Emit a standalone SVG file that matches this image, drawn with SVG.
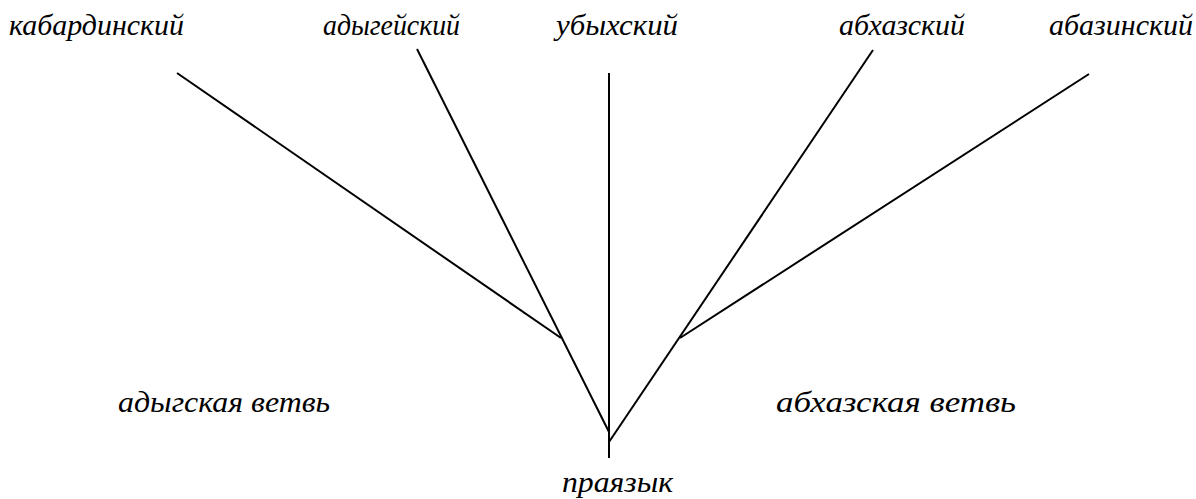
<svg xmlns="http://www.w3.org/2000/svg" width="1196" height="499" viewBox="0 0 1196 499">
<style>
.t{font-family:"Liberation Serif","Times New Roman",serif;font-style:italic;font-size:30px;fill:#000}
.c line{stroke:#000;stroke-width:2;stroke-linecap:butt}
</style>
<rect width="1196" height="499" fill="#fff"/>
<g class="c" id="connectors">
<line x1="609" y1="73" x2="609" y2="458"/>
<line x1="417" y1="49" x2="609" y2="432"/>
<line x1="177" y1="73" x2="561" y2="338"/>
<line x1="873" y1="50" x2="609" y2="442"/>
<line x1="1089" y1="74" x2="680" y2="338"/>
</g>
<g id="kabardian"><text class="t" x="9" y="35" textLength="175" lengthAdjust="spacingAndGlyphs">кабардинский</text></g>
<g id="adyghe"><text class="t" x="323" y="35" textLength="137" lengthAdjust="spacingAndGlyphs">адыгейский</text></g>
<g id="ubykh"><text class="t" x="556" y="35" textLength="122" lengthAdjust="spacingAndGlyphs">убыхский</text></g>
<g id="abkhaz"><text class="t" x="839" y="35" textLength="126" lengthAdjust="spacingAndGlyphs">абхазский</text></g>
<g id="abaza"><text class="t" x="1049" y="35" textLength="144" lengthAdjust="spacingAndGlyphs">абазинский</text></g>
<g id="adyghe-branch"><text class="t" x="118" y="412" textLength="212" lengthAdjust="spacingAndGlyphs">адыгская ветвь</text></g>
<g id="abkhaz-branch"><text class="t" x="776" y="412" textLength="240" lengthAdjust="spacingAndGlyphs">абхазская ветвь</text></g>
<g id="proto"><text class="t" x="562" y="492" textLength="111" lengthAdjust="spacingAndGlyphs">праязык</text></g>
</svg>
